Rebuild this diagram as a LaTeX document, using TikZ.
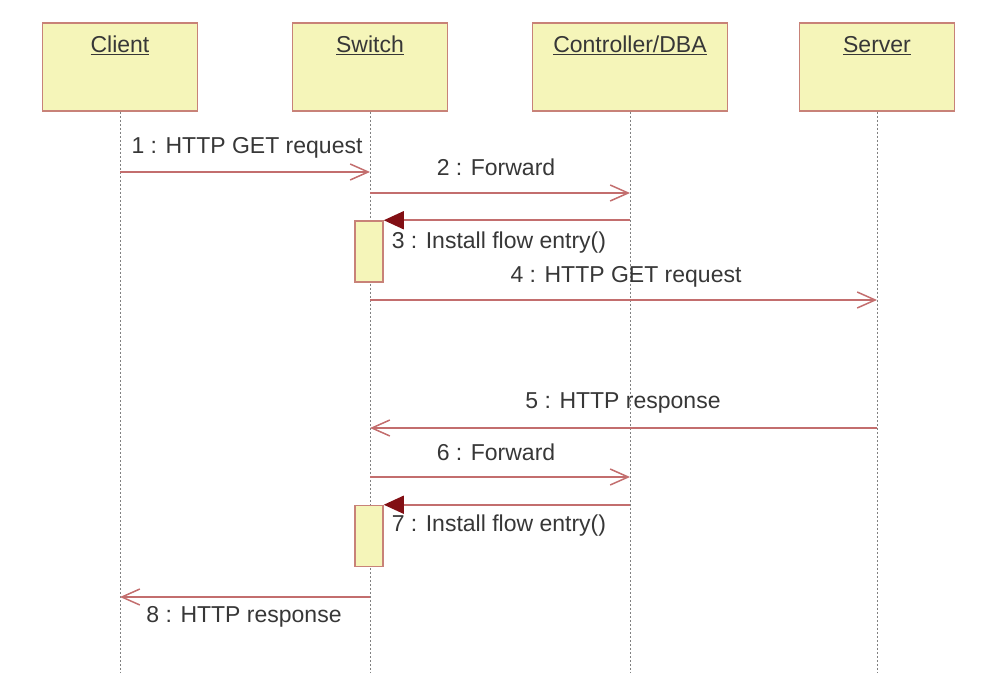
\documentclass[tikz,border=0pt]{standalone}
\usepackage{fontspec}
\setmainfont{Liberation Sans}
\usetikzlibrary{arrows.meta}
\definecolor{boxfill}{RGB}{245,245,185}
\definecolor{boxline}{RGB}{200,130,120}
\definecolor{msgline}{RGB}{195,110,110}
\definecolor{tipred}{RGB}{130,15,20}
\definecolor{textgray}{RGB}{55,55,55}

\begin{document}
\begin{tikzpicture}[x = 1pt, y = -1pt, line width = 1.5pt,
                        font = \fontsize{23}{27}\selectfont, text = textgray,
                        actor/.style = {rectangle, draw = boxline, fill = boxfill, minimum height = 88pt},
                        activation/.style = {rectangle, draw = boxline, fill = boxfill, minimum width = 28pt, minimum height = 61pt},
                        caption/.style = {text height = 16pt, text depth = 5pt, inner sep = 0pt},
                        lifeline/.style = {draw = gray, line width = 1pt, dash pattern = on 2pt off 2pt},
                        msg/.style = {draw = msgline, -{Straight Barb[length = 18pt, width = 16pt]}},
                        install/.style = {draw = msgline, -{Triangle[length = 20pt, width = 18pt, color = tipred, fill = tipred]}}]
      \useasboundingbox (0, 0) rectangle (990, 692);
      \node [actor, minimum width = 155pt] (client) at (120, 67){};   \node [caption] (clientname) at (120, 47) {\underline{Client}};
      \node [actor, minimum width = 155pt] (switch) at (370, 67){};   \node [caption] (switchname) at (370, 47) {\underline{Switch}};
      \node [actor, minimum width = 195pt] (ctrl) at (630, 67){};     \node [caption] (ctrlname) at (630, 47) {\underline{Controller/DBA}};
      \node [actor, minimum width = 155pt] (server) at (877, 67){};   \node [caption] (servername) at (877, 47) {\underline{Server}};
      \coordinate (clientend) at (120, 672);
      \coordinate (switchend) at (370, 672);
      \coordinate (ctrlend) at (630, 672);
      \coordinate (serverend) at (877, 672);
      \draw [lifeline] (client) -- (clientend);
      \draw [lifeline] (switch) -- (switchend);
      \draw [lifeline] (ctrl) -- (ctrlend);
      \draw [lifeline] (server) -- (serverend);
      \node [activation] (act1) at (369, 251.5){};
      \node [activation] (act2) at (369, 536){};
      \draw [msg] (client |- 0, 172) -- (switch |- 0, 172);       \node [caption] (m1) at (247, 148) {1 : HTTP GET request};
      \draw [msg] (switch |- 0, 193) -- (ctrl |- 0, 193);         \node [caption] (m2) at (496, 170) {2 : Forward};
      \draw [install] (ctrl |- act1.north) -- (act1.north east);  \node [caption, anchor = west] (m3) at (391, 243) {3 : Install flow entry()};
      \draw [msg] (switch |- 0, 300) -- (server |- 0, 300);       \node [caption] (m4) at (626, 277) {4 : HTTP GET request};
      \draw [msg] (server |- 0, 428) -- (switch |- 0, 428);       \node [caption] (m5) at (623, 403) {5 : HTTP response};
      \draw [msg] (switch |- 0, 477) -- (ctrl |- 0, 477);         \node [caption] (m6) at (496, 455) {6 : Forward};
      \draw [install] (ctrl |- act2.north) -- (act2.north east);  \node [caption, anchor = west] (m7) at (391, 526) {7 : Install flow entry()};
      \draw [msg] (switch |- 0, 597) -- (client |- 0, 597);       \node [caption] (m8) at (244, 617) {8 : HTTP response};
    \end{tikzpicture}
\end{document}
